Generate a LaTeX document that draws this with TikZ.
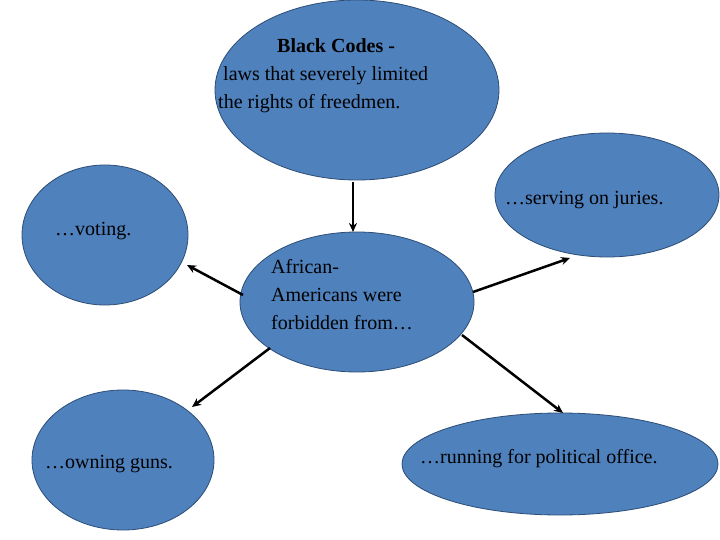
\documentclass[tikz,border=0pt]{standalone}
\usepackage{fontspec}
\setmainfont{Liberation Serif}
\usetikzlibrary{shapes.geometric,arrows.meta}
\definecolor{fillb}{HTML}{4F81BD}
\definecolor{edgeb}{HTML}{2C4D75}
\tikzset{
 bub/.style={ellipse,draw=edgeb,line width=0.8pt,fill=fillb,inner sep=0pt},
 lab/.style={font=\fontsize{20}{28}\selectfont,align=left,inner sep=0pt},
 arr/.style={-{Stealth[length=9pt,width=8pt]},line width=2.5pt,black}
}
\begin{document}
\begin{tikzpicture}[x=1pt,y=-1pt]
\useasboundingbox (0,0) rectangle (720,540);
\node[bub,minimum width=284pt,minimum height=180pt] (top) at (357,90) {};
\node[bub,minimum width=166pt,minimum height=140pt] (vote) at (105,235) {};
\node[bub,minimum width=224pt,minimum height=124pt] (jury) at (607,195) {};
\node[bub,minimum width=234pt,minimum height=140pt] (mid) at (357,302) {};
\node[bub,minimum width=182pt,minimum height=140pt] (guns) at (123,460) {};
\node[bub,minimum width=316pt,minimum height=102pt] (office) at (560,464) {};
\node[lab,anchor=west,font=\fontsize{20}{28}\selectfont\bfseries] (t1) at (277,46) {Black Codes -};
\node[lab,anchor=north west] (t2) at (218,66) {\ laws that severely limited\\the rights of freedmen.};
\node[lab,anchor=west] (tv) at (55,231) {\dots voting.};
\node[lab,anchor=west] (tj) at (505,200) {\dots serving on juries.};
\node[lab,anchor=north west] (tm) at (271,259) {African-\\Americans were\\forbidden from\dots};
\node[lab,anchor=west] (tg) at (45,464) {\dots owning guns.};
\node[lab,anchor=west] (to) at (420,459) {\dots running for political office.};
\coordinate (a1) at (353,182); \coordinate (b1) at (353,232);
\coordinate (a2) at (243,295); \coordinate (b2) at (187,265);
\coordinate (a3) at (473,292); \coordinate (b3) at (570,258);
\coordinate (a4) at (270,348); \coordinate (b4) at (192,407);
\coordinate (a5) at (462,335); \coordinate (b5) at (563,413);
\draw[arr] (a1) -- (b1);
\draw[arr] (a2) -- (b2);
\draw[arr] (a3) -- (b3);
\draw[arr] (a4) -- (b4);
\draw[arr] (a5) -- (b5);
\end{tikzpicture}
\end{document}
